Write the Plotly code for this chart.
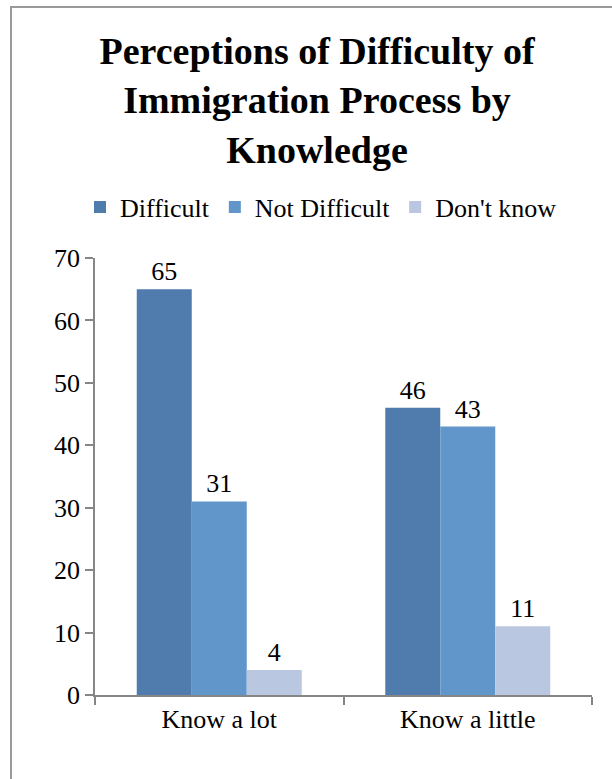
import plotly.graph_objects as go

categories = ["Know a lot", "Know a little"]
series_names = ["Difficult", "Not Difficult", "Don't know"]
difficult = [65, 46]
not_difficult = [31, 43]
dont_know = [4, 11]
y_ticks = [0, 10, 20, 30, 40, 50, 60, 70]

colors = ["#4F7CAC", "#6196CA", "#B9C7E1"]
FONT = "Liberation Serif, Times New Roman, serif"

W, H = 612, 779
ML, MR, MT, MB = 95, 20, 258, 84
PW = W - ML - MR
PH = H - MT - MB

fig = go.Figure()
for name, vals, col in zip(series_names, [difficult, not_difficult, dont_know], colors):
    fig.add_trace(go.Bar(
        x=categories, y=vals, name=name,
        marker=dict(color=col, line=dict(width=0)),
        text=[str(v) for v in vals], textposition="outside",
        textfont=dict(family=FONT, size=26, color="black"),
        cliponaxis=False,
    ))

def px_x(p):
    return (p - ML) / PW

def px_y(p):
    return (H - MB - p) / PH

fig.update_layout(
    width=W, height=H,
    margin=dict(l=ML, r=MR, t=MT, b=MB, autoexpand=False),
    paper_bgcolor="white", plot_bgcolor="white",
    barmode="group", bargap=0.336, bargroupgap=0,
    font=dict(family=FONT, size=26, color="black"),
    title=dict(
        text="<b>Perceptions of Difficulty of<br>Immigration Process by<br>Knowledge</b>",
        font=dict(family=FONT, size=38, color="black"),
        x=317 / W, xref="container", xanchor="center",
        y=1 - 64 / H, yref="container", yanchor="middle",
    ),
    legend=dict(
        orientation="h", xref="container", yref="container",
        x=321 / W, xanchor="center", y=1 - 207 / H, yanchor="middle",
        font=dict(family=FONT, size=26, color="black"),
        itemwidth=30, traceorder="normal",
    ),
    xaxis=dict(
        showline=True, linecolor="#868686", linewidth=1.5,
        ticks="outside", ticklen=8, tickcolor="#868686", tickwidth=1.5,
        tickson="boundaries", showgrid=False,
        tickfont=dict(family=FONT, size=26, color="black"),
    ),
    yaxis=dict(
        range=[0, 70], tickvals=y_ticks,
        showline=True, linecolor="#868686", linewidth=1.5,
        ticks="outside", ticklen=8, tickcolor="#868686", tickwidth=1.5,
        showgrid=False, zeroline=False,
        tickfont=dict(family=FONT, size=26, color="black"),
    ),
    shapes=[dict(
        type="rect", xref="paper", yref="paper",
        x0=px_x(11), x1=px_x(640), y0=px_y(800), y1=px_y(7),
        line=dict(color="#9A9A9A", width=2), fillcolor="rgba(0,0,0,0)",
        layer="below",
    )],
)

fig.write_html("out.html", config={"displayModeBar": False},
               post_script="document.body.style.margin='0';")
